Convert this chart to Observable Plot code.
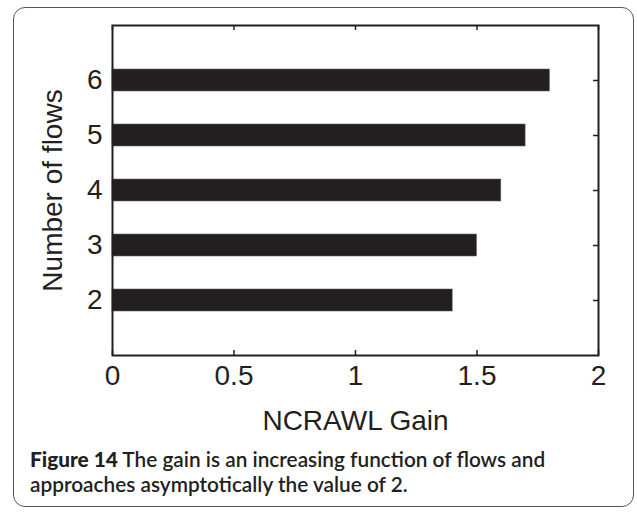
<!DOCTYPE html>
<html>
<head>
<meta charset="utf-8">
<script src="https://cdn.jsdelivr.net/npm/d3@7"></script>
<script src="https://cdn.jsdelivr.net/npm/@observablehq/plot@0.6"></script>
<style>
  html, body { margin: 0; padding: 0; background: #fff; }
  #wrap { position: relative; width: 637px; height: 512px; overflow: hidden; }
  #box { position: absolute; left: 13px; top: 7px; width: 621px; height: 500px;
         border: 1.4px solid #555; border-radius: 12px; box-sizing: border-box; }
  #chart { position: absolute; left: 0; top: 0; }
  #caption { position: absolute; left: 30px; top: 446px; width: 600px; white-space: nowrap;
             font-family: Lato, "Noto Sans", sans-serif; font-size: 20.8px; line-height: 25px;
             font-weight: 600; color: #231f20; }
  #caption b { font-weight: 900; }
</style>
</head>
<body>
<div id="wrap">
  <div id="box"></div>
  <div id="chart"></div>
  <div id="caption"><b>Figure 14</b> The gain is an increasing function of flows and<br>approaches asymptotically the value of 2.</div>
</div>
<script>
const flows = [2, 3, 4, 5, 6];
const gains = [1.4, 1.5, 1.6, 1.7, 1.8];
const xTicks = [0, 0.5, 1, 1.5, 2];
const yTicks = [2, 3, 4, 5, 6];
const xLabel = "NCRAWL Gain";
const yLabel = "Number of flows";

const data = flows.map((f, i) => ({flows: f, gain: gains[i]}));
const ink = "#231f20";

const plot = Plot.plot({
  width: 637,
  height: 440,
  marginLeft: 112,
  marginRight: 39,
  marginTop: 25,
  marginBottom: 85,
  style: {fontFamily: '"Liberation Sans", Arial, sans-serif', color: ink, background: "transparent"},
  x: {domain: [0, 2]},
  y: {domain: [1, 7]},
  marks: [
    Plot.rect(data, {x1: 0, x2: "gain", y1: d => d.flows - 0.2, y2: d => d.flows + 0.2, fill: ink, stroke: "#666", strokeWidth: 0.6}),
    Plot.tickX(xTicks, {x: d => d, insetTop: 325, stroke: ink, strokeWidth: 1.5}),
    Plot.tickX(xTicks, {x: d => d, insetBottom: 325, stroke: ink, strokeWidth: 1.5}),
    Plot.tickY(yTicks, {y: d => d, insetLeft: 481, stroke: ink, strokeWidth: 1.5}),
    Plot.tickY(yTicks, {y: d => d, insetRight: 481, stroke: ink, strokeWidth: 1.5}),
    Plot.frame({stroke: ink, strokeWidth: 2}),
    Plot.axisX({ticks: xTicks, tickSize: 0, tickPadding: 10, fontSize: 28, tickFormat: d => String(d),
                label: xLabel, labelAnchor: "center", labelOffset: 74, labelArrow: false}),
    Plot.axisY({ticks: yTicks, tickSize: 0, tickPadding: 10, fontSize: 28, tickFormat: d => String(d),
                label: yLabel, labelAnchor: "center", labelOffset: 70, labelArrow: false})
  ]
});
document.getElementById("chart").appendChild(plot);
</script>
</body>
</html>
